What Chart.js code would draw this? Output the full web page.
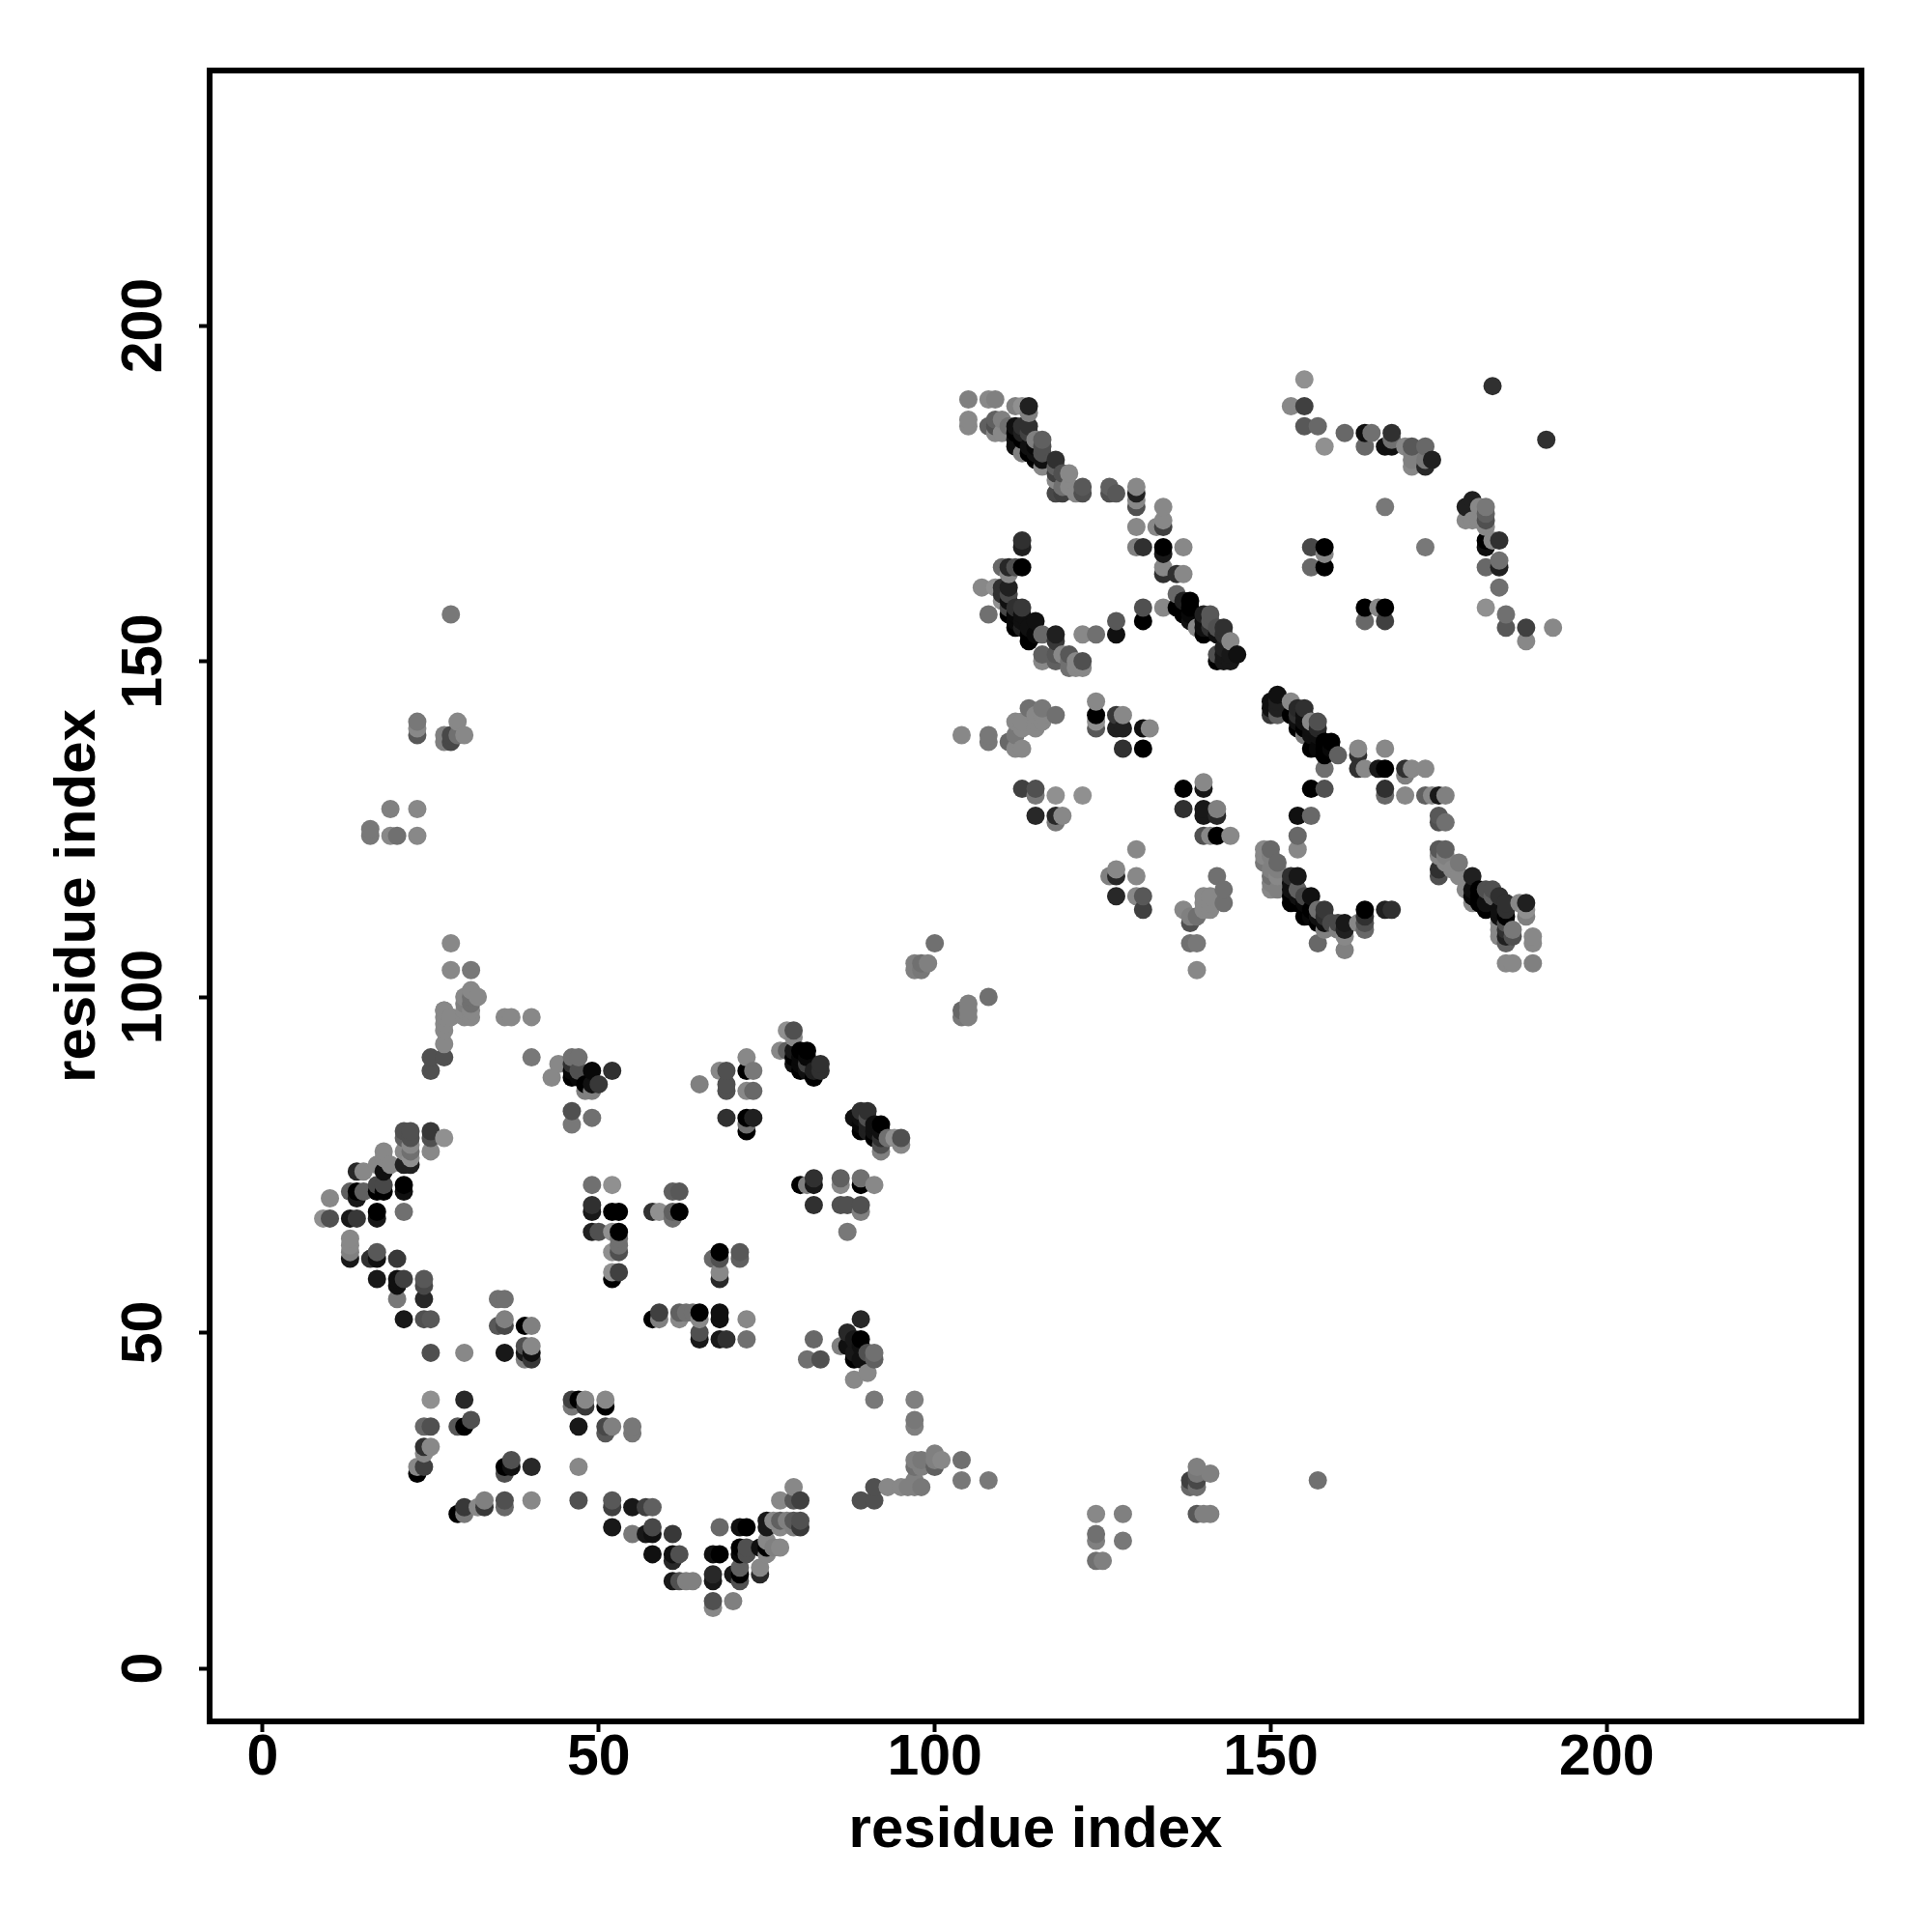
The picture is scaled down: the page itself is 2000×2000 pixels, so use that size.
<!DOCTYPE html>
<html><head><meta charset="utf-8">
<style>html,body{margin:0;padding:0;background:#fff}canvas{display:block}</style>
<script src="https://cdn.jsdelivr.net/npm/chart.js@4/dist/chart.umd.js"></script>
</head><body><canvas id="c" width="2000" height="2000"></canvas>
<script>
const tickValues=[0,50,100,150,200];
const axisTitle="residue index";
// each entry: residue i, residue j, gray level (level*16 = grey value)
const leftUpper=[[25,91,5],[27,91,5],[25,89,5],[27,93,8.5],[27,95,8.5],[27,98,8.5],[27,97,8.5],[28,97,8.5],[27,96,8.5],[30,98,8.5],[31,98,8.5],[30,97,8.5],[31,97,8.5],[36,97,8.5],[37,97,8.5],[40,97,8.5],[40,91,7.5],[44,90,8.5],[43,88,8.5],[46,91,7],[47,91,7],[46,90,3],[46,89,0.5],[46,88,0],[47,89,5],[47,88,0.5],[49,89,0.5],[52,89,3],[50,87,3.5],[49,86,8],[48,86,8],[48,87,0],[49,87,1],[46,83,5],[46,81,7.5],[49,82,7]];
const leftArc=[[21,80,5],[22,80,5],[25,80,3.5],[25,79,5],[27,79,9],[25,77,8.5],[21,79,6],[22,79,5],[22,78,8.5],[22,77,7],[21,77,8.5],[22,76,9],[21,75,2],[22,75,2],[18,77,8.5],[18,76,8.5],[17,75,8.5],[19,75,8.5],[18,74,1],[14,74,2.5],[15,74,8.5],[21,72,0],[21,71,1],[17,72,4.5],[18,72,4.5],[17,71,0],[18,71,0],[13,71,6],[14,71,0],[14,70,1.5],[15,71,6],[10,70,8.5],[21,68,7],[17,68,0],[17,67,1.5],[9,67,9],[10,67,5],[13,67,1.5],[14,67,3.5],[13,64,8.5],[13,63,8.5],[13,62,8],[13,61,1.5],[16,61,3],[17,62,5.5],[17,61,1],[20,61,3.5],[17,58,1.5],[20,58,1],[20,57,1],[21,58,4],[20,55,7.5],[24,58,5.5],[24,57,4.5],[24,55,2.5],[21,52,1.5],[24,52,5],[25,52,5.5]];
const lowerLeft=[[25,47,5],[30,47,8.5],[25,40,9],[30,40,2.5],[24,36,6.5],[25,36,5],[29,36,5.5],[30,36,0],[31,37,5],[24,33,3],[25,33,8.5],[24,32,8.5],[23,30,8.5],[23,29,0],[24,30,4],[36,30,0],[36,29,5],[37,31,5],[40,30,2.5],[37,30,1],[47,30,8.5],[36,25,5],[36,24,6.5],[33,25,8],[33,24,3.5],[32,24,8.5],[30,24,3.5],[30,23,7.5],[29,23,0],[40,25,8.5],[47,25,5],[52,25,5.5],[52,24,4],[55,24,1.5],[52,21,1.5],[55,20,7.5],[35,55,7],[36,55,7],[36,52,8],[35,51,5.5],[36,51,4.5],[39,51,0],[40,51,8],[39,48,5],[40,48,8.5],[39,47,1.5],[40,47,1],[39,46,8],[40,46,3.5],[36,47,1.5],[46,40,4],[47,40,0],[48,40,8.5],[46,39,7.5],[48,39,3.5],[51,40,8.5],[51,39,0],[47,36,1.5],[51,36,4.5],[51,35,5.5],[52,36,8],[55,36,7.5],[55,35,7.5]];
const bottomArc=[[57,24,4],[58,24,6],[57,20,1.5],[58,20,1],[58,21,4.5],[61,20,3.5],[58,17,1],[61,17,1],[62,17,5],[61,16,2.5],[61,13,1.5],[62,13,5],[63,13,8],[64,13,8],[67,14,2.5],[67,13,1.5],[67,10,5],[67,9,8.5],[70,10,8],[68,21,6.5],[71,21,1],[72,21,0],[67,17,1],[68,17,0],[71,18,0],[72,18,5],[71,17,0.5],[72,17,5],[70,14,1.5],[71,15,6],[71,14,0],[71,13,5],[74,15,8.5],[74,14,2.5],[74,18,1],[75,18,0],[75,19,8.5],[75,17,8.5],[76,18,8],[77,18,8.5],[75,22,1.5],[75,21,1.5],[76,22,8.5],[77,22,6],[77,21,8.5],[78,22,8],[79,22,5.5],[79,21,8],[80,22,5],[80,21,3.5],[77,25,8.5],[79,27,8.5],[79,25,5.5],[80,25,4]];
const bottomRight=[[89,25,5],[91,25,5],[91,27,5],[93,27,8.5],[95,27,8.5],[96,27,8],[97,27,8],[98,27,7.5],[97,28,8],[97,31,8],[98,31,7.5],[97,30,7],[98,30,8],[100,32,8],[100,31,8],[100,30,6],[101,31,8.5],[104,31,7],[104,28,7.5],[108,28,7.5],[97,40,8],[97,37,7.5],[97,36,8],[91,40,7.5],[124,23,8.5],[128,23,8],[124,20,7],[124,19,8],[128,19,7.5],[124,16,7],[125,16,8],[139,30,8],[141,29,8],[139,29,7.5],[138,28,4],[139,28,4.5],[138,27,6.5],[139,27,7],[139,23,5.5],[140,23,8],[141,23,8],[157,28,7]];
const midLower=[[89,52,2.5],[87,50,2.5],[89,49,0],[88,49,1.5],[86,48,8],[87,48,1],[89,48,1],[88,47,1.5],[88,46,0],[89,46,1],[91,47,7],[91,46,6],[90,47,5],[90,44,8.5],[88,43,8.5],[82,49,6.5],[81,46,7],[83,46,5],[59,53,4],[58,52,0],[59,52,8],[62,53,6],[62,52,8.5],[63,53,7],[64,53,7],[65,53,0],[65,52,8.5],[65,50,5],[65,49,1.5],[68,53,1],[68,52,1],[68,49,1.5],[69,49,3],[72,52,8.5],[72,49,7]];
const midCentre=[[78,95,9],[79,95,5],[79,94,8.5],[77,92,8.5],[78,92,6],[79,92,1.5],[80,92,0],[81,92,0],[79,91,0],[80,91,0.5],[81,91,0.5],[79,90,1],[80,90,0.5],[80,89,0],[81,89,1],[82,88,0],[82,89,2],[83,90,3],[83,89,3],[81,90,4],[72,91,8.5],[68,89,8.5],[69,89,5],[72,89,0],[73,89,7.5],[65,87,8],[69,87,5],[69,86,5],[72,86,8.5],[73,86,6.5],[69,82,3],[72,82,0],[73,82,2],[72,81,7],[72,80,0],[88,82,1],[89,83,3],[90,83,3],[89,82,1],[89,81,0.5],[89,80,0],[90,82,5],[90,81,2],[90,80,2],[91,81,1],[92,81,0],[91,80,1],[91,79,0],[92,80,1],[92,79,3],[92,77,8],[92,78,5],[93,79,7],[94,79,9],[95,79,5],[95,78,8.5],[80,72,0],[81,72,8],[82,73,3],[82,72,1.5],[82,69,3],[86,73,6],[86,72,8.5],[89,73,7],[89,72,0],[91,72,8.5],[86,69,5],[87,69,5],[89,69,5],[89,68,8],[87,65,7.5],[61,71,6],[62,71,5.5],[58,68,3],[59,68,9],[61,68,6],[62,68,0],[61,67,7],[68,62,0],[68,61,5],[67,61,6.5],[71,62,5.5],[71,61,6],[68,59,8.5],[68,58,2.5],[49,72,7],[52,72,9],[49,69,3],[49,68,1.5],[52,68,0],[53,68,0],[49,65,2],[50,65,5],[52,65,9],[53,65,0],[53,64,7],[53,63,7],[53,62,5],[52,62,9],[53,59,4],[52,59,9],[52,58,0]];
const upperBand=[[105,189,8],[108,189,8.5],[109,189,8],[112,188,8],[113,188,9],[114,188,2],[114,187,8],[105,186,8.5],[105,185,8.5],[108,185,6],[109,186,6],[109,185,5],[110,186,8],[109,184,8.5],[110,184,8.5],[111,185,7],[112,185,1],[113,185,3],[114,185,3],[112,184,0],[113,184,2],[112,183,1],[113,183,0],[114,184,4],[115,183,8],[116,183,6],[116,182,5],[112,182,1],[113,181,8],[114,181,0],[115,181,1],[114,182,1],[115,182,0.5],[115,180,0],[116,180,1],[116,179,8.5],[116,181,5],[118,180,3],[118,179,6],[118,178,4],[119,178,5],[120,178,8.5],[118,177,8.5],[118,175,4.5],[119,175,4],[119,176,7],[120,176,8.5],[121,175,8.5],[122,176,5.5],[122,175,5],[126,176,6],[126,175,5],[127,175,5.5],[130,176,8.5],[130,175,2],[130,174,8.5],[130,173,5],[134,173,8.5],[134,171,8.5],[133,170,8.5],[134,170,4],[130,170,8.5],[130,167,8],[131,167,3],[134,167,0],[134,166,1.5],[137,167,8.5],[134,164,8.5],[134,163,3],[136,163,3],[137,163,8.5]];
const upperLoop=[[113,168,3],[113,167,2],[110,164,6.5],[111,164,2.5],[112,164,5],[113,164,0],[111,163,8.5],[107,161,8.5],[109,161,9],[110,161,3],[111,161,2],[110,160,3],[111,160,4.5],[108,157,7],[110,159,9],[111,159,1],[111,158,4.5],[112,158,3],[113,158,3.5],[111,157,0],[112,157,0.5],[112,156,0.5],[112,155,0],[113,157,1],[113,156,1],[113,155,2],[114,155,1],[114,154,0],[114,153,0],[115,156,1],[115,154,0.5],[116,154,6.5],[118,154,2],[118,153,3.5],[116,151,6],[116,150,8.5],[118,151,5.5],[118,150,6],[119,151,8.5],[120,151,5.5],[120,150,7],[120,149,7],[121,150,8.5],[122,150,5],[122,149,8.5],[121,149,8.5],[122,154,8.5],[124,154,7],[127,156,5.5],[127,154,1],[131,158,5],[131,156,0],[134,158,8.5]];
const upperDiagonal=[[136,160,6.5],[136,158,0],[137,159,2],[137,157,0],[138,159,0],[138,158,0],[138,157,0.5],[138,156,1],[139,155,8.5],[140,157,2],[141,157,5.5],[140,156,1],[140,155,1],[140,154,0],[141,156,5.5],[141,155,3],[142,155,5],[143,155,3],[142,154,1],[143,154,3],[144,153,8.5],[144,151,1.5],[145,151,1],[142,151,5],[142,150,0],[143,150,1.5],[144,150,1.5],[143,152,2],[143,151,1.5]];
const farUpper=[[155,192,9],[153,188,8.5],[155,188,4],[155,185,5.5],[157,185,6.5],[158,182,9],[161,184,6.5],[164,184,1],[165,184,7],[164,182,6.5],[167,182,1],[168,182,1],[168,184,3],[168,183,7],[170,182,8.5],[171,182,5.5],[173,182,6.5],[171,181,8],[171,180,8],[171,179,8.5],[173,179,2.5],[174,180,2],[173,180,7.5],[183,191,3],[191,183,3],[167,173,7.5],[173,167,7.5],[156,167,4.5],[158,167,0],[158,166,8.5],[156,164,6.5],[158,164,0],[164,158,0],[166,158,8.5],[167,158,0],[164,156,6.5],[167,156,4],[179,173,2],[180,174,2],[181,173,8.5],[182,173,7.5],[182,171,5],[179,171,8.5],[180,171,8.5],[181,171,8.5],[182,172,6],[182,170,8.5],[182,168,0],[182,167,1],[183,168,8.5],[184,168,3],[182,164,6.5],[184,165,7],[184,164,2],[184,161,7],[182,158,9],[185,157,7],[185,155,5.5],[188,155,4],[188,153,8.5],[192,155,8.5]];
const midUpper=[[104,139,8.5],[108,139,7.5],[108,138,7.5],[111,138,6.5],[112,137,8.5],[112,139,7.5],[113,137,8.5],[112,141,8.5],[113,140,8.5],[113,141,8.5],[114,143,7],[115,142,8.5],[115,140,8.5],[115,141,8.5],[116,143,7.5],[116,141,8.5],[116,142,8.5],[118,142,7],[124,144,8.5],[124,142,0],[124,141,9],[124,140,5.5],[127,142,3.5],[128,142,8.5],[127,140,2],[128,140,2],[131,140,1],[132,140,8.5],[128,137,3],[131,137,0],[113,131,4],[115,131,5],[115,130,7.5],[118,130,9],[122,130,9],[115,127,2.5],[118,127,2.5],[119,127,8.5],[118,126,7.5],[137,131,0],[140,132,8.5],[140,131,1.5],[137,128,3],[140,128,1.5],[140,127,1.5],[142,128,8],[142,127,2.5],[140,124,5],[141,124,8.5],[142,124,0],[144,124,8.5],[130,122,8.5],[126,118,8],[127,119,8.5],[127,118,2.5],[130,118,8.5],[127,115,2.5],[130,115,8.5],[131,115,5.5],[131,113,4],[142,118,7],[143,116,7],[143,114,7],[140,115,8.5],[141,115,8.5],[140,114,8.5],[141,114,8.5],[141,113,8.5],[140,113,8.5],[137,113,8.5],[138,112,8],[138,111,5],[139,112,7],[138,108,7],[139,108,7.5],[139,104,8.5]];
const midDiagonal=[[100,108,7],[97,105,8],[98,105,7],[99,105,8],[97,104,8],[98,104,7.5],[108,100,7],[105,99,8],[104,98,6.5],[105,98,8],[104,97,7.5],[105,97,8]];
const rightBandA=[[151,145,1],[150,144,1],[150,143,1],[150,142,3.5],[151,144,2],[151,143,2],[151,142,6],[153,144,8.5],[154,143,2.5],[155,143,3],[154,142,3],[153,142,0],[154,141,1],[154,140,0],[155,141,1],[155,142,1],[156,141,8.5],[157,141,5],[157,140,2.5],[155,140,0],[155,139,7.5],[156,139,1],[157,139,1],[156,140,1],[159,138,0],[158,138,0],[156,137,0],[157,137,0.5],[158,137,0],[158,136,0],[159,137,0.5],[160,136,6],[158,134,7],[163,137,8.5],[163,136,3],[163,134,3],[164,134,8.5],[166,134,1.5],[167,134,0],[167,137,8.5],[170,134,3],[171,134,8.5],[170,133,8],[173,134,8.5],[156,131,0],[158,131,5],[167,131,3],[167,130,6.5],[170,130,8.5],[173,130,6],[174,130,8.5],[175,130,1.5],[176,130,8],[175,127,5.5],[175,126,5],[176,126,7],[154,127,1],[156,127,6.5],[154,124,6.5],[154,122,8.5]];
const rightLoop=[[149,122,8.5],[150,122,6.5],[149,121,8.5],[150,121,8],[151,120,6.5],[149,120,7.5],[150,119,8],[151,118,8.5],[150,118,7],[150,116,8.5],[151,116,8],[150,117,8],[151,119,8],[153,118,3],[154,118,1.5],[153,117,1],[153,116,1],[153,115,0],[154,116,6],[153,114,0],[155,115,4.5],[154,115,1],[154,114,0],[155,114,0.5],[156,115,1],[156,113,0],[155,112,0],[156,112,0.5],[157,113,7],[158,113,3.5],[157,112,1],[157,111,0],[158,112,3],[158,111,1],[159,111,4.5],[160,111,4.5],[161,111,1.5],[161,110,2],[158,110,8],[160,110,8],[161,109,8.5],[157,108,6.5],[161,107,8],[163,111,8.5],[164,113,0],[164,112,3],[164,111,5],[164,110,6.5],[167,113,2],[168,113,3]];
const rightBandB=[[175,122,5.5],[176,122,6],[175,121,8.5],[176,120,8.5],[178,120,7.5],[175,119,3],[175,118,5],[176,121,8],[177,119,8.5],[178,118,8.5],[179,116,8.5],[180,118,2],[180,116,1],[181,116,0],[182,116,5],[183,116,5],[180,115,0.5],[181,115,0],[181,114,0],[182,114,1],[182,113,0],[180,114,8.5],[183,115,6],[184,115,3],[185,114,3],[185,113,3],[184,113,1],[185,112,0],[184,112,1],[187,114,8.5],[188,114,2],[188,113,9],[188,112,8],[184,110,8.5],[184,111,8.5],[185,111,5],[185,109,2],[186,110,7.5],[186,109,5],[184,109,8.5],[185,108,6],[185,110,3],[189,109,8.5],[189,108,8.5],[185,105,8.5],[186,105,8.5],[189,105,8]];
const farLeft=[[28,157,7.5],[23,141,7.5],[23,140,8.5],[23,139,5.5],[27,139,8],[27,138,8],[28,139,4.5],[28,138,4.5],[29,141,8.5],[29,139,7],[30,139,8.5],[19,128,8],[23,128,8.5],[16,125,7.5],[16,124,7.5],[19,124,8.5],[20,124,7],[23,124,8.5],[28,108,8.5],[28,104,8.5],[31,104,7.5],[30,100,8.5],[31,101,8.5],[32,100,8.5],[31,100,7],[31,99,7],[30,99,8],[27,98,8.5]];

const allPoints=[leftUpper,leftArc,lowerLeft,bottomArc,bottomRight,midLower,midCentre,upperBand,upperLoop,upperDiagonal,farUpper,midUpper,midDiagonal,rightBandA,rightLoop,rightBandB,farLeft].flat();
// the reference is painted residue by residue
allPoints.sort((a,b)=>a[0]-b[0]||a[1]-b[1]);
const grey=l=>{const v=Math.round(l*16);return `rgb(${v},${v},${v})`;};
const FONT='"Liberation Sans",Arial,sans-serif';
const boxPlugin={id:'box',afterDatasetsDraw(ch){const a=ch.chartArea,c=ch.ctx;c.save();c.strokeStyle='#000';c.lineWidth=6;c.strokeRect(a.left,a.top,a.right-a.left,a.bottom-a.top);c.restore();}};
function ticksFor(){return {autoSkip:false,color:'#000',font:{family:FONT,weight:'bold',size:59}};}
new Chart(document.getElementById('c'),{
 type:'scatter',
 data:{datasets:[{data:allPoints.map(p=>({x:p[0],y:p[1]})),pointRadius:9.5,pointHoverRadius:9.5,pointBorderWidth:0,pointBackgroundColor:allPoints.map(p=>grey(p[2])),showLine:false}]},
 plugins:[boxPlugin],
 options:{responsive:false,animation:false,events:[],clip:false,
  layout:{padding:{left:0,right:73,top:73,bottom:0}},
  plugins:{legend:{display:false},tooltip:{enabled:false},title:{display:false}},
  scales:{
   x:{type:'linear',position:'bottom',min:-7.9,max:237.9,afterBuildTicks(s){s.ticks=tickValues.map(v=>({value:v}));},afterFit(s){s.height=218;},
      grid:{drawOnChartArea:false,drawTicks:true,tickLength:11,tickWidth:4,tickColor:'#000'},border:{display:false},
      ticks:{...ticksFor(),maxRotation:0,minRotation:0,padding:-8},
      title:{display:true,text:axisTitle,color:'#000',font:{family:FONT,weight:'bold',size:60},padding:{top:0,bottom:69}}},
   y:{type:'linear',position:'left',min:-7.91,max:238,afterBuildTicks(s){s.ticks=tickValues.map(v=>({value:v}));},afterFit(s){s.width=217;},
      grid:{drawOnChartArea:false,drawTicks:true,tickLength:11,tickWidth:4,tickColor:'#000'},border:{display:false},
      ticks:{...ticksFor(),minRotation:90,maxRotation:90,crossAlign:'center',padding:6},
      title:{display:true,text:axisTitle,color:'#000',font:{family:FONT,weight:'bold',size:60},padding:{top:45,bottom:0}}}
  }
 }
});
</script></body></html>
